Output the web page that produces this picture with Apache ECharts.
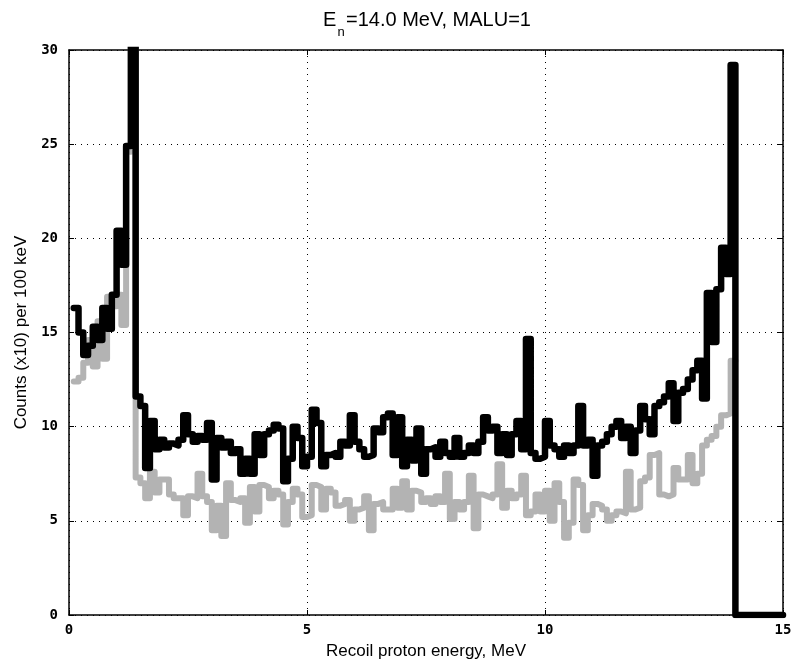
<!DOCTYPE html>
<html>
<head>
<meta charset="utf-8">
<script src="https://cdn.jsdelivr.net/npm/echarts@6/dist/echarts.min.js"></script>
<style>html,body{margin:0;padding:0;background:#fff}#c{width:796px;height:669px}</style>
</head>
<body>
<div id="c"></div>
<script>
// Bin layout (MeV): first bin low edge and bin width (100 keV)
const firstEdge = 0.1;
const binWidth = 0.1;

// Black histogram: counts (x10) per bin, bins starting at 0.1 MeV
const blackCounts = [
  16.3, 15.0, 13.8, 14.3, 15.3, 14.6, 16.3, 15.2, 17.0, 20.4,
  18.6, 24.9, 36.0, 11.6, 11.1, 7.8, 10.3, 8.8, 9.3, 8.9,
  9.1, 9.0, 9.3, 10.6, 9.6, 9.2, 9.5, 9.3, 10.2, 7.2,
  9.4, 8.9, 9.2, 8.6, 8.8, 7.5, 8.3, 7.5, 9.6, 8.5,
  9.6, 9.8, 10.1, 9.9, 7.1, 8.3, 10.0, 9.4, 7.9, 8.4,
  10.9, 10.2, 7.9, 8.5, 8.6, 8.4, 9.2, 9.0, 10.6, 9.2,
  8.8, 8.4, 8.5, 9.9, 9.7, 10.5, 10.7, 8.5, 10.5, 7.9,
  9.3, 8.2, 9.9, 7.5, 8.8, 8.9, 8.4, 9.2, 8.6, 8.4,
  9.4, 8.4, 8.6, 9.0, 8.6, 9.2, 10.5, 9.8, 10.0, 8.6,
  9.6, 8.5, 9.6, 10.3, 8.8, 14.65, 8.6, 8.3, 8.4, 10.3,
  9.0, 8.8, 8.4, 9.0, 8.6, 9.0, 11.1, 9.0, 9.3, 7.4,
  9.0, 9.2, 9.6, 10.0, 10.3, 9.4, 10.0, 8.6, 9.8, 11.1,
  10.4, 9.6, 11.1, 11.3, 11.6, 12.3, 10.3, 11.8, 12.0, 12.5,
  13.0, 13.5, 11.5, 17.1, 14.5, 17.3, 19.5, 18.1, 29.2,
  0, 0, 0, 0, 0, 0, 0, 0, 0, 0
];

// Gray histogram: counts (x10) per bin, bins starting at 0.1 MeV
const grayCounts = [
  12.4, 12.6, 13.4, 14.6, 13.2, 15.6, 13.6, 16.9, 16.4, 17.0,
  15.4, 24.6, 33.0, 7.3, 7.0, 6.2, 7.6, 6.5, 7.2, 7.2,
  6.4, 6.2, 6.2, 5.3, 6.3, 6.2, 7.5, 6.3, 6.0, 4.5,
  5.8, 4.2, 7.0, 6.1, 6.0, 6.2, 4.9, 6.8, 5.5, 6.9,
  6.8, 6.2, 6.6, 6.4, 4.8, 6.0, 6.7, 6.4, 5.2, 5.3,
  6.9, 6.8, 5.6, 6.7, 6.5, 5.8, 5.9, 6.1, 5.0, 5.6,
  5.7, 6.3, 4.5, 5.9, 6.0, 5.6, 5.6, 6.7, 5.7, 7.1,
  5.6, 6.6, 6.5, 6.0, 6.2, 5.9, 6.3, 6.0, 7.5, 5.1,
  6.0, 5.6, 6.0, 7.4, 4.6, 6.4, 6.3, 6.2, 6.4, 8.0,
  5.7, 6.6, 6.2, 6.4, 7.4, 5.3, 5.5, 6.4, 5.5, 6.6,
  5.0, 7.0, 6.0, 4.1, 4.9, 7.2, 6.9, 4.5, 5.3, 5.9,
  5.8, 5.6, 5.0, 5.3, 5.5, 5.4, 7.6, 5.6, 5.7, 7.1,
  7.3, 8.5, 8.6, 6.4, 6.3, 6.4, 7.8, 7.2, 7.2, 8.5,
  7.0, 7.5, 9.0, 9.3, 9.5, 10.0, 10.6, 10.7, 13.5
];

const xTicks = [0, 5, 10, 15];
const yTicks = [0, 5, 10, 15, 20, 25, 30];

function toSteps(vals) {
  const pts = vals.map((v, i) => [+(firstEdge + i * binWidth).toFixed(2), v]);
  pts.push([+(firstEdge + vals.length * binWidth).toFixed(2), vals[vals.length - 1]]);
  return pts;
}

const tickFont = { fontFamily: 'DejaVu Sans Mono', fontSize: 14, fontWeight: 'bold', color: '#000' };
const nameFont = { fontFamily: 'Liberation Sans', fontSize: 17, color: '#000' };

const chart = echarts.init(document.getElementById('c'), null, { renderer: 'canvas' });
chart.setOption({
  animation: false,
  backgroundColor: '#fff',
  graphic: [
    { type: 'text', x: 323, y: 20.4, style: { text: 'E', fontFamily: 'Liberation Sans', fontSize: 20, fill: '#000', align: 'left', verticalAlign: 'middle' } },
    { type: 'text', x: 337.5, y: 32.8, style: { text: 'n', fontFamily: 'Liberation Sans', fontSize: 13, fill: '#000', align: 'left', verticalAlign: 'middle' } },
    { type: 'text', x: 346, y: 20.4, style: { text: '=14.0 MeV, MALU=1', fontFamily: 'Liberation Sans', fontSize: 20, fill: '#000', align: 'left', verticalAlign: 'middle' } }
  ],
  grid: { left: 69, right: 13, top: 50, bottom: 54 },
  xAxis: [{
    type: 'value', min: 0, max: 15, interval: 5,
    name: 'Recoil proton energy, MeV', nameLocation: 'middle', nameGap: 28,
    nameTextStyle: nameFont,
    axisLine: { show: true, onZero: false, lineStyle: { color: '#000', width: 1.5 } },
    axisTick: { show: true, inside: true, length: 5, lineStyle: { color: '#000' } },
    axisLabel: Object.assign({ margin: 8, formatter: v => xTicks.includes(v) ? String(v) : '' }, tickFont),
    splitLine: { show: true, lineStyle: { color: '#000', width: 1, type: [1, 5] } }
  }, {
    type: 'value', min: 0, max: 15, interval: 5, position: 'top',
    axisLine: { show: true, onZero: false, lineStyle: { color: '#000', width: 1.5 } },
    axisTick: { show: true, inside: true, length: 5, lineStyle: { color: '#000' } },
    axisLabel: { show: false }, splitLine: { show: false }
  }],
  yAxis: [{
    type: 'value', min: 0, max: 30, interval: 5,
    name: 'Counts (x10) per 100 keV', nameLocation: 'middle', nameGap: 38,
    nameTextStyle: nameFont,
    axisLine: { show: true, onZero: false, lineStyle: { color: '#000', width: 1.5 } },
    axisTick: { show: true, inside: true, length: 5, lineStyle: { color: '#000' } },
    axisLabel: Object.assign({ margin: 11, formatter: v => yTicks.includes(v) ? String(v) : '' }, tickFont),
    splitLine: { show: true, lineStyle: { color: '#000', width: 1, type: [1, 5] } }
  }, {
    type: 'value', min: 0, max: 30, interval: 5, position: 'right',
    axisLine: { show: true, onZero: false, lineStyle: { color: '#000', width: 1.5 } },
    axisTick: { show: true, inside: true, length: 5, lineStyle: { color: '#000' } },
    axisLabel: { show: false }, splitLine: { show: false }
  }],
  series: [{
    type: 'line', step: 'end', data: toSteps(grayCounts), showSymbol: false, clip: true,
    lineStyle: { color: '#b3b3b3', width: 6, cap: 'round', join: 'round' }, z: 2
  }, {
    type: 'line', step: 'end', data: toSteps(blackCounts), showSymbol: false, clip: true,
    lineStyle: { color: '#000', width: 6.5, cap: 'round', join: 'round' }, z: 3
  }]
});
</script>
</body>
</html>
